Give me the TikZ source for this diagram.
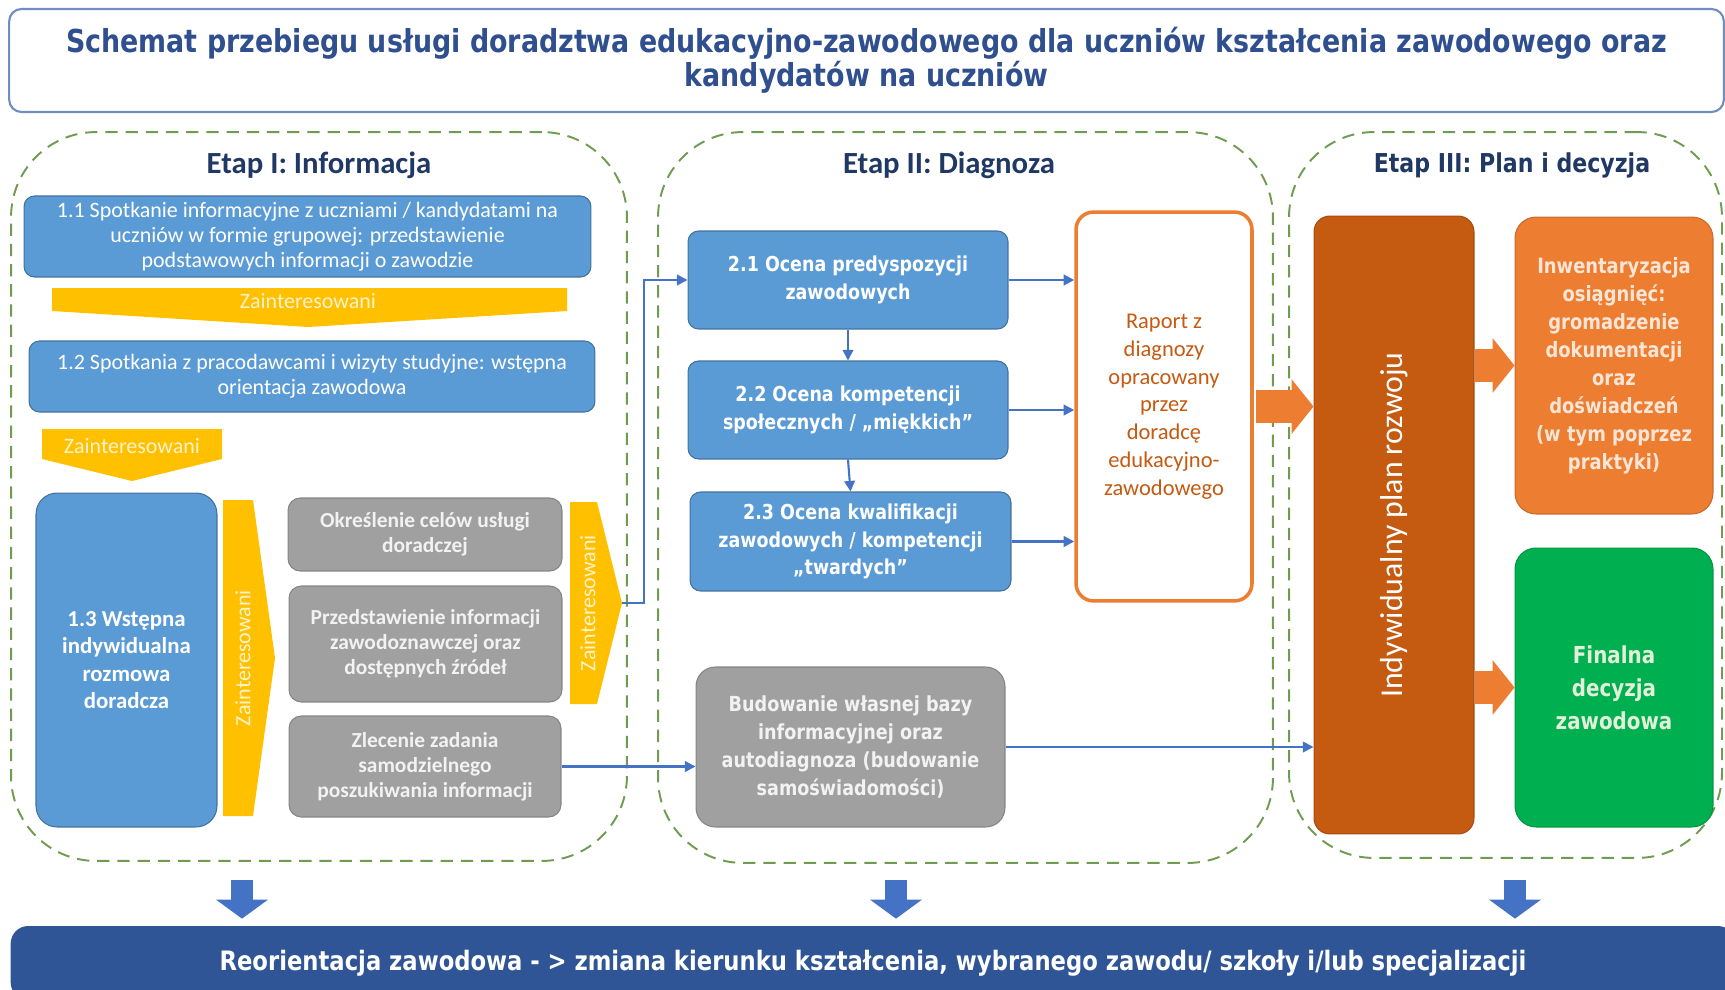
\documentclass[tikz,border=0pt]{standalone}
\usepackage{fontspec}
\setmainfont{Carlito}
\newfontfamily\verd[FakeStretch=0.85]{DejaVu Sans}
\usetikzlibrary{positioning, arrows.meta, calc}
\definecolor{titleBlue}{HTML}{2F4F8F}
\definecolor{titleBorder}{HTML}{6F8DC0}
\definecolor{headBlue}{HTML}{203864}
\definecolor{boxBlue}{HTML}{5B9BD5}
\definecolor{boxBlueDark}{HTML}{41719C}
\definecolor{boxGrey}{HTML}{A0A0A0}
\definecolor{boxGreyDark}{HTML}{858585}
\definecolor{greyText}{HTML}{F2F2F2}
\definecolor{zainYellow}{HTML}{FFC000}
\definecolor{zainText}{HTML}{FFF2CC}
\definecolor{connBlue}{HTML}{4472C4}
\definecolor{stageGreen}{HTML}{6F9C50}
\definecolor{orangeMain}{HTML}{ED7D31}
\definecolor{orangeDark}{HTML}{C55A11}
\definecolor{orangeText}{HTML}{FBE5D6}
\definecolor{finGreen}{HTML}{00B050}
\definecolor{finText}{HTML}{E2F0D9}
\definecolor{bottomBlue}{HTML}{2F5597}

\begin{document}
\begin{tikzpicture}[x=0.02cm, y=-0.02cm,
    stage/.style={draw=stageGreen, line width=1.1pt, dash pattern=on 7pt off 4.5pt, rounded corners=1.7cm},
    stageTitle/.style={text=headBlue, font=\bfseries\fontsize{17.5}{20}\selectfont},
    titleBox/.style={draw=titleBorder, line width=1.2pt, fill=white, rounded corners=7pt, align=center,
                     text=titleBlue, font=\verd\bfseries\fontsize{18}{18}\selectfont},
    blueBox/.style={draw=boxBlueDark, line width=0.6pt, fill=boxBlue, rounded corners=6pt, align=center,
                    text=white, inner sep=2pt, font=\fontsize{12.5}{14.3}\selectfont},
    blueBoxV/.style={blueBox, font=\verd\bfseries\fontsize{11.7}{15.6}\selectfont},
    greyBox/.style={draw=boxGreyDark, line width=0.6pt, fill=boxGrey, rounded corners=7pt, align=center,
                    text=greyText, inner sep=2pt, font=\bfseries\fontsize{12.2}{14.3}\selectfont},
    zainShape/.style={fill=zainYellow},
    zainLabel/.style={text=zainText, font=\fontsize{12.5}{14}\selectfont, inner sep=0pt},
    conn/.style={draw=connBlue, line width=1.2pt, -{Triangle[length=6pt, width=6pt]}},
    fatArrow/.style={draw=orangeMain, line width=0.66cm, -{Triangle[length=0.44cm, width=1.1cm, line width=0pt]}},
    downArrow/.style={draw=connBlue, line width=0.44cm, -{Triangle[length=0.38cm, width=1.04cm, line width=0pt]}},
]
\useasboundingbox (0,0) rectangle (1725,990);

% stages
\node[stage, minimum width=12.32cm, minimum height=14.58cm] (stageI)   at (319,496.5)  {};
\node[stage, minimum width=12.30cm, minimum height=14.62cm] (stageII)  at (965.5,497.5) {};
\node[stage, minimum width=8.66cm,  minimum height=14.52cm] (stageIII) at (1505.5,495) {};

\node[titleBox, minimum width=34.3cm, minimum height=2.06cm] (title) at (866.5,60.5)
  {Schemat przebiegu usługi doradztwa edukacyjno-zawodowego dla uczniów kształcenia zawodowego oraz\\ kandydatów na uczniów};

\node[stageTitle] (etapI)  at (319,165) {Etap I: Informacja};
\node[stageTitle] (etapII) at (949,165) {Etap II: Diagnoza};
\node[stageTitle, font=\verd\bfseries\fontsize{14.8}{16}\selectfont] (etapIII) at (1512,165) {Etap III: Plan i decyzja};

% Etap I
\node[blueBox, minimum width=11.34cm, minimum height=1.62cm] (spotkanie) at (307.5,236.5)
  {1.1 Spotkanie informacyjne z uczniami / kandydatami na\\ uczniów w formie grupowej: przedstawienie\\ podstawowych informacji o zawodzie};
\fill[zainShape] (52,288) -- (567,288) -- (567,311) -- (308,327) -- (52,311) -- cycle;
\node[zainLabel] (zainA) at (308,301) {Zainteresowani};
\node[blueBox, minimum width=11.32cm, minimum height=1.42cm] (pracodawcy) at (312,376.5)
  {1.2 Spotkania z pracodawcami i wizyty studyjne: wstępna\\ orientacja zawodowa};
\fill[zainShape] (42,429) -- (222,429) -- (222,459) -- (132,481) -- (42,459) -- cycle;
\node[zainLabel] (zainB) at (132,446) {Zainteresowani};
\node[blueBox, rounded corners=12pt, minimum width=3.62cm, minimum height=6.68cm,
      font=\bfseries\fontsize{13}{15.6}\selectfont] (rozmowa) at (126.5,660)
  {1.3 Wstępna\\ indywidualna\\ rozmowa\\ doradcza};
\fill[zainShape] (223,500) -- (253,500) -- (275,658) -- (253,816) -- (223,816) -- cycle;
\node[zainLabel, rotate=90] (zainC) at (243,658) {Zainteresowani};
\node[greyBox, minimum width=5.48cm, minimum height=1.46cm] (cele) at (425,534.5)
  {Określenie celów usługi\\ doradczej};
\node[greyBox, minimum width=5.46cm, minimum height=2.32cm] (zrodla) at (425.5,644)
  {Przedstawienie informacji\\ zawodoznawczej oraz\\ dostępnych źródeł};
\node[greyBox, minimum width=5.44cm, minimum height=2.02cm] (zlecenie) at (425,766.5)
  {Zlecenie zadania\\ samodzielnego\\ poszukiwania informacji};
\fill[zainShape] (570,502) -- (597,502) -- (622,603) -- (597,704) -- (570,704) -- cycle;
\node[zainLabel, rotate=90] (zainD) at (588,603) {Zainteresowani};
\coordinate (zainTip) at (622,603);

% Etap II
\node[blueBoxV, minimum width=6.4cm, minimum height=1.96cm] (predyspozycje) at (848,280)
  {2.1 Ocena predyspozycji\\ zawodowych};
\node[blueBoxV, minimum width=6.4cm, minimum height=1.96cm] (miekkie) at (848,410)
  {2.2 Ocena kompetencji\\ społecznych / „miękkich”};
\node[blueBoxV, minimum width=6.42cm, minimum height=1.98cm] (twarde) at (850.5,541.5)
  {2.3 Ocena kwalifikacji\\ zawodowych / kompetencji\\ „twardych”};
\node[draw=orangeMain, line width=2pt, fill=white, rounded corners=10pt, align=center,
      text=orangeDark, font=\fontsize{12.8}{15.8}\selectfont,
      minimum width=3.52cm, minimum height=7.78cm] (raport) at (1164,406.5)
  {Raport z\\ diagnozy\\ opracowany\\ przez\\ doradcę\\ edukacyjno-\\ zawodowego};
\node[greyBox, rounded corners=11pt, minimum width=6.18cm, minimum height=3.2cm,
      font=\verd\bfseries\fontsize{11.8}{16}\selectfont] (budowanie) at (850.5,747)
  {Budowanie własnej bazy\\ informacyjnej oraz\\ autodiagnoza (budowanie\\ samoświadomości)};

% Etap III
\node[draw=orangeDark!85!black, line width=0.6pt, fill=orangeDark, rounded corners=9pt,
      minimum width=3.2cm, minimum height=12.36cm] (plan) at (1394,525) {};
\node[rotate=90, text=white, font=\fontsize{18.1}{20}\selectfont] (planText) at (1394,525) {Indywidualny plan rozwoju};
\node[draw=orangeMain!85!black, line width=0.6pt, fill=orangeMain, rounded corners=12pt, align=center,
      text=orangeText, font=\verd\bfseries\fontsize{12}{15.9}\selectfont,
      minimum width=3.96cm, minimum height=5.94cm] (inwentaryzacja) at (1614,365.5)
  {Inwentaryzacja\\ osiągnięć:\\ gromadzenie\\ dokumentacji\\ oraz\\ doświadczeń\\ (w tym poprzez\\ praktyki)};
\node[draw=finGreen!85!black, line width=0.6pt, fill=finGreen, rounded corners=12pt, align=center,
      text=finText, font=\verd\bfseries\fontsize{13.3}{18.7}\selectfont,
      minimum width=3.96cm, minimum height=5.58cm] (decyzja) at (1614,687.5)
  {Finalna\\ decyzja\\ zawodowa};

% bottom
\node[fill=bottomBlue, rounded corners=10pt, text=white, font=\verd\bfseries\fontsize{15.2}{17}\selectfont,
      minimum width=34.5cm, minimum height=1.48cm] (reorientacja) at (873,963)
  {Reorientacja zawodowa - > zmiana kierunku kształcenia, wybranego zawodu/ szkoły i/lub specjalizacji};

% connectors
\draw[conn] (zainTip) -- ++(22,0) |- (predyspozycje.west);
\draw[conn] (zlecenie.east) -- (zlecenie.east -| budowanie.west);
\draw[conn] (predyspozycje.south) -- (miekkie.north);
\draw[conn] (miekkie.south) -- (twarde.north);
\draw[conn] (predyspozycje.east) -- (predyspozycje.east -| raport.west);
\draw[conn] (miekkie.east) -- (miekkie.east -| raport.west);
\draw[conn] (twarde.east) -- (twarde.east -| raport.west);
\draw[conn, line width=1pt] (budowanie.east) -- (budowanie.east -| plan.west);
\draw[fatArrow] ([xshift=1pt]raport.east) -- (raport.east -| plan.west);
\draw[fatArrow] (plan.east |- inwentaryzacja.west) -- (inwentaryzacja.west);
\draw[fatArrow] (plan.east |- decyzja.west) -- (decyzja.west);
\coordinate (downI)   at (242,880);
\coordinate (downII)  at (896,880);
\coordinate (downIII) at (1515,880);
\draw[downArrow, shorten >=4pt] (downI)   -- (downI   |- reorientacja.north);
\draw[downArrow, shorten >=4pt] (downII)  -- (downII  |- reorientacja.north);
\draw[downArrow, shorten >=4pt] (downIII) -- (downIII |- reorientacja.north);
\end{tikzpicture}
\end{document}
